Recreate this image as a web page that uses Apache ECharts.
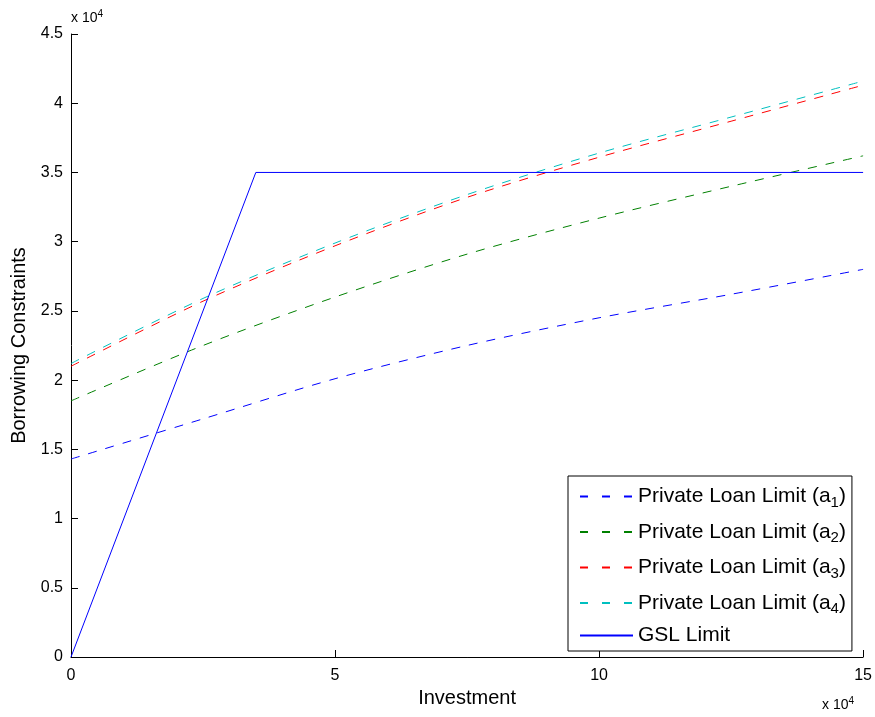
<!DOCTYPE html>
<html>
<head>
<meta charset="utf-8" />
<script src="https://cdn.jsdelivr.net/npm/echarts@6/dist/echarts.min.js"></script>
<style>
  html, body { margin: 0; padding: 0; background: #fff; }
  #chart { width: 875px; height: 717px; }
</style>
</head>
<body>
<div id="chart"></div>
<script>
// investment values (x), in dollars
const investment = [0, 25000, 50000, 75000, 100000, 125000, 150000];

// private loan limits
const loanA1 = [14300, 17200, 20100, 22500, 24500, 26200, 28000];
const loanA2 = [18500, 22500, 26000, 29100, 31700, 34000, 36200];
const loanA3 = [21000, 25700, 29700, 33200, 36100, 38700, 41300];
const loanA4 = [21200, 25900, 29900, 33400, 36400, 39000, 41600];

// GSL limit: ramps up then flat
const gslX = [0, 35000, 150000];
const gslY = [0, 35000, 35000];

const xTicks = ["0", "5", "10", "15"];
const yTicks = ["0", "0.5", "1", "1.5", "2", "2.5", "3", "3.5", "4", "4.5"];

const pairs = (xs, ys) => xs.map((x, i) => [x, ys[i]]);

const dashed = (name, color, data) => ({
  name: name,
  type: "line",
  data: pairs(investment, data),
  smooth: 0.3,
  symbol: "none",
  lineStyle: { color: color, width: 1, type: [9, 9] },
  itemStyle: { color: color },
});

const expText = {
  text: "{b|x 10}{p|4}",
  rich: {
    b: { fontSize: 14, fill: "#000", fontFamily: "Liberation Sans" },
    p: { fontSize: 10, fill: "#000", padding: [0, 0, 9, 0], fontFamily: "Liberation Sans" },
  },
};

const legendDash = { lineStyle: { type: [8, 14] } };

const chart = echarts.init(document.getElementById("chart"));

const option = {
  animation: false,
  textStyle: { fontFamily: "Liberation Sans, Arial, sans-serif" },
  grid: { left: 71, right: 11, top: 34, bottom: 60 },
  xAxis: {
    type: "value",
    min: 0,
    max: 150000,
    interval: 50000,
    name: "Investment",
    nameLocation: "middle",
    nameGap: 26,
    nameTextStyle: { fontSize: 20, color: "#000" },
    axisLine: { lineStyle: { color: "#000", width: 1 } },
    axisTick: { inside: true, length: 7, lineStyle: { color: "#000" } },
    axisLabel: {
      fontSize: 16,
      color: "#000",
      margin: 11,
      formatter: (v) => xTicks[Math.round(v / 50000)],
    },
    splitLine: { show: false },
  },
  yAxis: {
    type: "value",
    min: 0,
    max: 45000,
    interval: 5000,
    name: "Borrowing Constraints",
    nameLocation: "middle",
    nameGap: 38,
    nameTextStyle: { fontSize: 20, color: "#000" },
    axisLine: { show: true, lineStyle: { color: "#000", width: 1 } },
    axisTick: { show: true, inside: true, length: 7, lineStyle: { color: "#000" } },
    axisLabel: {
      fontSize: 16,
      color: "#000",
      margin: 8,
      formatter: (v) => yTicks[Math.round(v / 5000)],
    },
    splitLine: { show: false },
  },
  legend: {
    orient: "vertical",
    left: 568,
    top: 476,
    padding: [7, 6, 5, 11],
    itemWidth: 53,
    itemHeight: 14,
    itemGap: 8.5,
    borderColor: "#000",
    borderWidth: 1,
    borderRadius: 0,
    backgroundColor: "#fff",
    itemStyle: { opacity: 0 },
    data: [
      { name: "Private Loan Limit (a1)", ...legendDash },
      { name: "Private Loan Limit (a2)", ...legendDash },
      { name: "Private Loan Limit (a3)", ...legendDash },
      { name: "Private Loan Limit (a4)", ...legendDash },
      { name: "GSL Limit", lineStyle: { type: "solid" } },
    ],
    formatter: (name) => {
      const m = name.match(/^(.*\(a)(\d)\)$/);
      if (m) return "{t|" + m[1] + "}{s|" + m[2] + "}{t|)}";
      return "{t|" + name + "}";
    },
    textStyle: {
      color: "#000",
      rich: {
        t: { fontSize: 21, color: "#000", lineHeight: 24 },
        s: { fontSize: 15, color: "#000", padding: [12, 0, 0, 0], lineHeight: 24 },
      },
    },
  },
  graphic: [
    { type: "text", left: 71, top: 9, style: expText },
    { type: "text", left: 822, top: 696, style: expText },
  ],
  series: [
    dashed("Private Loan Limit (a1)", "#0000ff", loanA1),
    dashed("Private Loan Limit (a2)", "#008000", loanA2),
    dashed("Private Loan Limit (a3)", "#ff0000", loanA3),
    dashed("Private Loan Limit (a4)", "#00bfbf", loanA4),
    {
      name: "GSL Limit",
      type: "line",
      data: pairs(gslX, gslY),
      symbol: "none",
      lineStyle: { color: "#0000ff", width: 1 },
      itemStyle: { color: "#0000ff" },
    },
  ],
};

chart.setOption(option);
</script>
</body>
</html>
